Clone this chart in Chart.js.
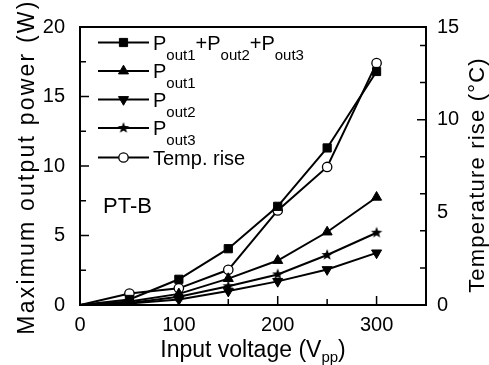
<!DOCTYPE html>
<html>
<head>
<meta charset="utf-8">
<script src="https://cdn.jsdelivr.net/npm/chart.js@4.4.1/dist/chart.umd.min.js"></script>
<style>
  html, body { margin: 0; padding: 0; background: #fff; }
  canvas { display: block; }
</style>
</head>
<body>
<canvas id="myChart" width="489" height="365"></canvas>
<script>
// data
var voltage = [0, 50, 100, 150, 200, 250, 300];
var pTotal = [0, 0.4, 1.85, 4.05, 7.1, 11.3, 16.8];
var pOut1 = [0, 0.25, 0.8, 1.9, 3.2, 5.25, 7.75];
var pOut2 = [0, 0.1, 0.4, 1.0, 1.7, 2.55, 3.75];
var pOut3 = [0, 0.15, 0.6, 1.35, 2.2, 3.6, 5.2];
var tempRise = [0, 0.62, 0.9, 1.9, 5.1, 7.45, 13.05];

var seriesNames = ["P_{out1}+P_{out2}+P_{out3}", "P_{out1}", "P_{out2}", "P_{out3}", "Temp. rise"];
var xTitle = "Input voltage (V_{pp})";
var yTitle = "Maximum output power (W)";
var y2Title = "Temperature rise (°C)";
var sampleName = "PT-B";
var xTickLabels = [0, 100, 200, 300];
var yTickLabels = [0, 5, 10, 15, 20];
var y2TickLabels = [0, 5, 10, 15];

var family = "'Liberation Sans', Arial, sans-serif";
Chart.defaults.font.family = family;
Chart.defaults.color = "#000";

function makeStar(r) {
  var c = document.createElement("canvas");
  var s = Math.ceil(r * 2 + 2);
  c.width = c.height = s;
  var g = c.getContext("2d");
  g.fillStyle = "#000";
  g.beginPath();
  for (var i = 0; i < 10; i++) {
    var rr = i % 2 ? r * 0.42 : r;
    var a = -Math.PI / 2 + i * Math.PI / 5;
    g.lineTo(s / 2 + rr * Math.cos(a), s / 2 + rr * Math.sin(a));
  }
  g.closePath();
  g.fill();
  return c;
}
var star = makeStar(6);

function pts(ys) {
  return voltage.map(function (v, i) { return { x: v, y: ys[i] }; });
}
function radii(r) {
  return voltage.map(function (v) { return v === 0 ? 0 : r; });
}

function series(i, ys, style, r, extra) {
  var d = {
    label: seriesNames[i],
    data: pts(ys),
    borderColor: "#000",
    backgroundColor: "#000",
    borderWidth: 2,
    pointStyle: style,
    pointRadius: radii(r),
    pointBorderWidth: 1,
    pointBackgroundColor: "#000",
    pointBorderColor: "#000",
    yAxisID: "y",
  };
  return Object.assign(d, extra || {});
}

var datasets = [
  series(0, pTotal, "rect", 5.8),
  series(1, pOut1, "triangle", 5.8),
  series(2, pOut2, "triangle", 5.8, { pointRotation: 180 }),
  series(3, pOut3, star, 6),
  series(4, tempRise, "circle", 4.7, {
    pointBackgroundColor: "#fff",
    pointBorderWidth: 1.3,
    yAxisID: "y2",
  }),
];

// splits "P_{out1}" into normal / subscript runs and draws them
function drawRich(ctx, str, x, y, size, subSize, subDrop, align) {
  var parts = [], re = /_\{([^}]*)\}/g, last = 0, m;
  while ((m = re.exec(str))) {
    if (m.index > last) parts.push({ t: str.slice(last, m.index), sub: false });
    parts.push({ t: m[1], sub: true });
    last = re.lastIndex;
  }
  if (last < str.length) parts.push({ t: str.slice(last), sub: false });
  var w = 0;
  parts.forEach(function (p) {
    ctx.font = (p.sub ? subSize : size) + "px " + family;
    p.w = ctx.measureText(p.t).width;
    w += p.w;
  });
  var cx = align === "center" ? x - w / 2 : x;
  ctx.textAlign = "left";
  ctx.textBaseline = "alphabetic";
  parts.forEach(function (p) {
    ctx.font = (p.sub ? subSize : size) + "px " + family;
    ctx.fillText(p.t, cx, p.sub ? y + subDrop : y);
    cx += p.w;
  });
}

function drawVertical(ctx, str, x, y, size, spacing) {
  ctx.save();
  ctx.translate(x, y);
  ctx.rotate(-Math.PI / 2);
  ctx.font = size + "px " + family;
  if ("letterSpacing" in ctx) ctx.letterSpacing = spacing + "px";
  ctx.textAlign = "center";
  ctx.textBaseline = "alphabetic";
  ctx.fillText(str, 0, 0);
  ctx.restore();
}

var decor = {
  id: "decor",
  afterDraw: function (chart) {
    var ctx = chart.ctx, a = chart.chartArea;
    ctx.save();
    ctx.strokeStyle = "#000";
    ctx.fillStyle = "#000";

    // frame
    ctx.lineWidth = 2;
    ctx.strokeRect(a.left, a.top, a.right - a.left, a.bottom - a.top);

    // inward tick marks
    ctx.lineWidth = 1.5;
    ctx.beginPath();
    chart.scales.x.ticks.forEach(function (t) {
      if (t.value <= 0 || t.value >= 350) return;
      var px = chart.scales.x.getPixelForValue(t.value);
      var len = t.value % 100 === 0 ? 9 : 6;
      ctx.moveTo(px, a.bottom);
      ctx.lineTo(px, a.bottom - len);
    });
    chart.scales.y.ticks.forEach(function (t) {
      if (t.value <= 0 || t.value >= 20) return;
      var py = chart.scales.y.getPixelForValue(t.value);
      var len = t.value % 5 === 0 ? 9 : 6;
      ctx.moveTo(a.left, py);
      ctx.lineTo(a.left + len, py);
    });
    chart.scales.y2.ticks.forEach(function (t) {
      if (t.value <= 0 || t.value >= 15 || t.value % 2 !== 0) return;
      var py = chart.scales.y2.getPixelForValue(t.value);
      var len = t.value % 10 === 0 ? 9 : 6;
      ctx.moveTo(a.right, py);
      ctx.lineTo(a.right - len, py);
    });
    ctx.stroke();

    // legend
    var rows = [42.5, 71, 99.5, 128, 157.5];
    chart.data.datasets.forEach(function (ds, i) {
      var y = rows[i];
      ctx.lineWidth = 2;
      ctx.beginPath();
      ctx.moveTo(98, y);
      ctx.lineTo(149, y);
      ctx.stroke();
      ctx.fillStyle = ds.pointBackgroundColor;
      ctx.lineWidth = ds.pointBorderWidth;
      Chart.helpers.drawPoint(ctx, {
        pointStyle: ds.pointStyle,
        radius: ds.pointRadius[1],
        rotation: ds.pointRotation || 0,
        borderWidth: ds.pointBorderWidth,
      }, 123.5, y);
      ctx.fillStyle = "#000";
      drawRich(ctx, ds.label, 153, y + 7, 20, 15, 10, "left");
    });

    // sample label
    ctx.font = "22px " + family;
    ctx.textAlign = "left";
    ctx.fillText(sampleName, 103, 213);

    // axis titles
    drawRich(ctx, xTitle, (a.left + a.right) / 2, 357, 23, 15, 5, "center");
    drawVertical(ctx, yTitle, 34, 167, 23, 2.2);
    drawVertical(ctx, y2Title, 484, 175, 22, 1.2);
    ctx.restore();
  },
};

function tickOpts(labels, pad) {
  return {
    autoSkip: false,
    maxRotation: 0,
    padding: pad,
    font: { size: 20 },
    color: "#000",
    callback: function (v) { return labels.indexOf(v) >= 0 ? String(v) : ""; },
  };
}

const ctx = document.getElementById("myChart").getContext("2d");
const myChart = new Chart(ctx, {
  type: "line",
  data: { datasets: datasets },
  options: {
    responsive: false,
    animation: false,
    devicePixelRatio: 1,
    layout: { padding: { top: 22, left: 0, right: 0, bottom: 0 } },
    plugins: {
      legend: false,
      tooltip: { enabled: false },
    },
    scales: {
      x: {
        type: "linear",
        min: 0,
        max: 350,
        grid: { display: false, drawTicks: false },
        border: { display: false },
        ticks: Object.assign(tickOpts(xTickLabels, 8), { stepSize: 50 }),
        afterFit: function (s) { s.height = 60; },
      },
      y: {
        position: "left",
        min: 0,
        max: 20,
        grid: { display: false, drawTicks: false },
        border: { display: false },
        ticks: Object.assign(tickOpts(yTickLabels, 15), { stepSize: 2.5 }),
        afterFit: function (s) { s.width = 80; },
      },
      y2: {
        position: "right",
        min: 0,
        max: 15,
        grid: { display: false, drawTicks: false },
        border: { display: false },
        ticks: Object.assign(tickOpts(y2TickLabels, 11), { stepSize: 1 }),
        afterFit: function (s) { s.width = 63; },
      },
    },
  },
  plugins: [decor],
});
</script>
</body>
</html>
